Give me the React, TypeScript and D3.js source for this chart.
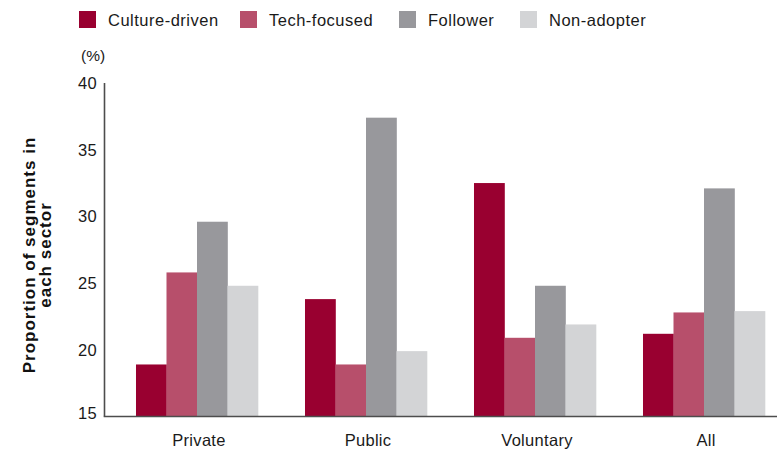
import React from "react";
import * as d3 from "d3";

const categories = ["Private", "Public", "Voluntary", "All"];
const seriesNames = ["Culture-driven", "Tech-focused", "Follower", "Non-adopter"];
const cultureDriven = [18.9, 23.8, 32.5, 21.2];
const techFocused = [25.8, 18.9, 20.9, 22.8];
const follower = [29.6, 37.4, 24.8, 32.1];
const nonAdopter = [24.8, 19.9, 21.9, 22.9];
const yTicks = [15, 20, 25, 30, 35, 40];
const colors = ["#990030", "#B74F6B", "#98989C", "#D3D4D6"];

const W = 777;
const H = 452;
const FONT = "'Liberation Sans', Arial, Helvetica, sans-serif";

export default function App() {
  const series = [cultureDriven, techFocused, follower, nonAdopter];
  const x0 = d3.scaleBand<string>().domain(categories).range([112.5, 788.5]).paddingInner(0.278).paddingOuter(0.139);
  const x1 = d3.scaleBand<string>().domain(seriesNames).range([0, x0.bandwidth()]).padding(0);
  const y = d3.scaleLinear().domain([15, 40]).range([416.5, 83]);
  const axisX = 104.5;

  const legendX = [79, 240, 399, 520];

  return (
    <svg width={W} height={H} style={{ position: "absolute", left: 0, top: 0, background: "#fff" }} fontFamily={FONT}>
      {/* legend */}
      {seriesNames.map((s, i) => (
        <g key={s}>
          <rect x={legendX[i]} y={11} width={17} height={17} fill={colors[i]} />
          <text x={legendX[i] + 29} y={26} fontSize={16.5} letterSpacing={0.5} fill="#1a1a1a">{s}</text>
        </g>
      ))}
      {/* (%) */}
      <text x={81} y={60.5} fontSize={15.5} fill="#1a1a1a">(%)</text>
      {/* y title */}
      <text transform="translate(0,255) rotate(-90)" textAnchor="middle" fontSize={17} letterSpacing={1} fontWeight="bold" fill="#111">
        <tspan x={0} y={35}>Proportion of segments in</tspan>
        <tspan x={0} y={51}>each sector</tspan>
      </text>
      {/* bars */}
      {categories.map((c, ci) => (
        <g key={c} transform={`translate(${x0(c)},0)`}>
          {seriesNames.map((s, si) => (
            <rect
              key={s}
              x={x1(s)!}
              y={y(series[si][ci])}
              width={x1.bandwidth() + 0.3}
              height={y(15) - y(series[si][ci])}
              fill={colors[si]}
            />
          ))}
        </g>
      ))}
      {/* y tick labels */}
      {yTicks.map((t) => (
        <text key={t} x={97} y={y(t) + (t === 15 ? 2.5 : 6)} textAnchor="end" fontSize={16.5} letterSpacing={0.3} fill="#1a1a1a">
          {t}
        </text>
      ))}
      {/* axes */}
      <line x1={axisX} x2={axisX} y1={y(40)} y2={y(15)} stroke="#4d4d4d" strokeWidth={1.6} />
      <line x1={axisX - 0.8} x2={W} y1={y(15)} y2={y(15)} stroke="#4d4d4d" strokeWidth={1.6} />
      {/* category labels */}
      {categories.map((c) => (
        <text key={c} x={x0(c)! + x0.bandwidth() / 2 + 2} y={446} textAnchor="middle" fontSize={16.5} letterSpacing={0.3} fill="#1a1a1a">
          {c}
        </text>
      ))}
    </svg>
  );
}
